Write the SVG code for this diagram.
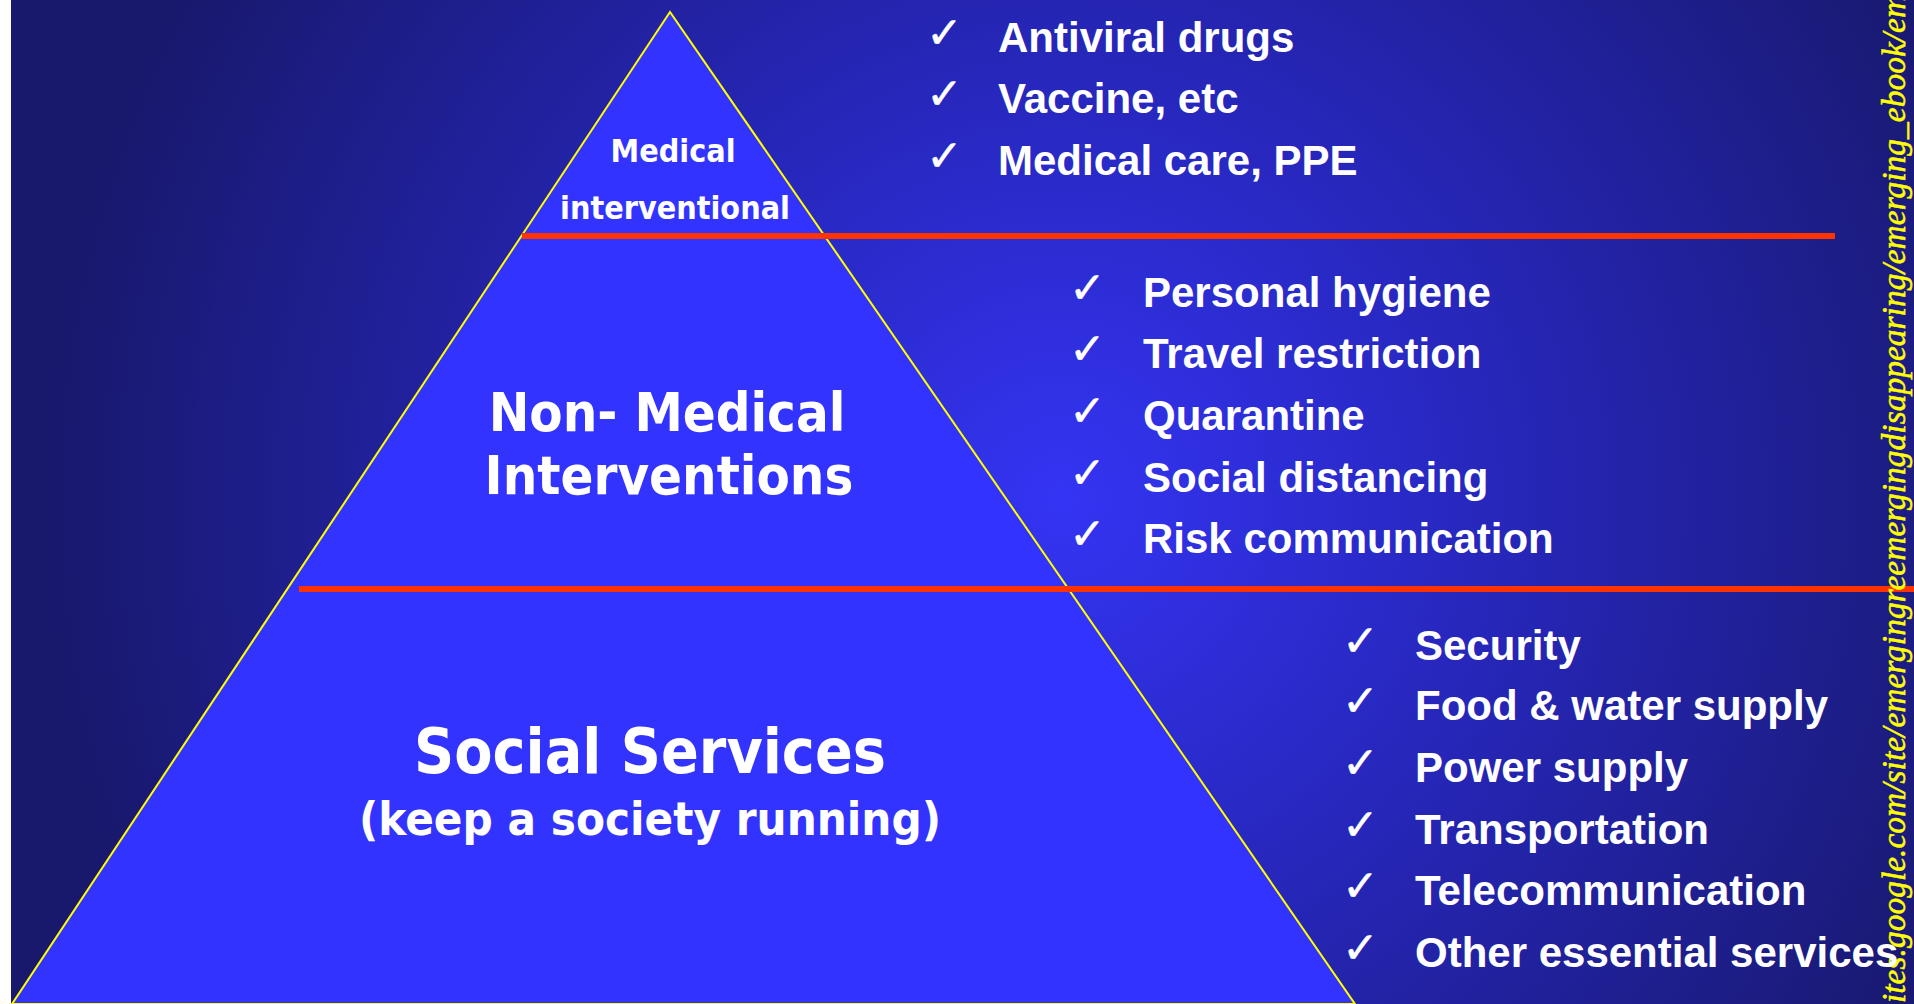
<svg xmlns="http://www.w3.org/2000/svg" width="1914" height="1004" viewBox="0 0 1914 1004">
<defs>
<radialGradient id="bg" gradientUnits="userSpaceOnUse" cx="1060" cy="500" r="1020">
<stop offset="0" stop-color="#3434f4"/>
<stop offset="0.45" stop-color="#2626b8"/>
<stop offset="1" stop-color="#18186c"/>
</radialGradient>
<style>
.tri{font-family:"DejaVu Sans Condensed","DejaVu Sans","Liberation Sans",sans-serif;font-stretch:condensed;font-weight:bold;fill:#ffffff;text-anchor:middle}
.item{font-family:"Liberation Sans",Arial,sans-serif;font-weight:bold;font-size:42px;fill:#ffffff}
.chk{font-family:"DejaVu Sans",sans-serif;font-size:44px;fill:#ffffff;stroke:#ffffff;stroke-width:0.4}
.red{stroke:#ff3300;stroke-width:6}
.url{font-family:"Liberation Serif","Times New Roman",serif;font-style:italic;font-size:33.5px;fill:#ffff00;stroke:#ffff00;stroke-width:0.5}
</style>
</defs>
<rect x="0" y="0" width="1914" height="1004" fill="#ffffff"/>
<rect x="11" y="0" width="1903" height="1004" fill="url(#bg)"/>
<g id="pyramid">
<polygon points="670,12 12,1004 1355,1004" fill="#3333ff" stroke="#ffff00" stroke-width="2"/>
</g>
<g id="connectors">
<line class="red" x1="522" y1="236" x2="1835" y2="236"/>
<line class="red" x1="299" y1="589" x2="1914" y2="589"/>
</g>
<g id="url">
<text class="url" transform="translate(1905,1003) rotate(-90)" x="0" y="0">ites.google.com/site/emergingreemergingdisappearing/emerging_ebook/em</text>
</g>
<g id="node-medical">
<text class="tri" x="673" y="162" font-size="32">Medical</text>
<text class="tri" x="675" y="219" font-size="32">interventional</text>
</g>
<g id="node-nonmedical">
<text class="tri" x="667" y="431" font-size="54">Non- Medical</text>
<text class="tri" x="669" y="494" font-size="54">Interventions</text>
</g>
<g id="node-social">
<text class="tri" x="650" y="773" font-size="62">Social Services</text>
<text class="tri" x="650" y="835" font-size="47">(keep a society running)</text>
</g>
<g id="list-medical">
<text class="chk" x="926" y="48">✓</text>
<text class="item" x="998" y="52">Antiviral drugs</text>
<text class="chk" x="926" y="109">✓</text>
<text class="item" x="998" y="113">Vaccine, etc</text>
<text class="chk" x="926" y="171">✓</text>
<text class="item" x="998" y="175">Medical care, PPE</text>
</g>
<g id="list-nonmedical">
<text class="chk" x="1069" y="303">✓</text>
<text class="item" x="1143" y="307">Personal hygiene</text>
<text class="chk" x="1069" y="364">✓</text>
<text class="item" x="1143" y="368">Travel restriction</text>
<text class="chk" x="1069" y="426">✓</text>
<text class="item" x="1143" y="430">Quarantine</text>
<text class="chk" x="1069" y="488">✓</text>
<text class="item" x="1143" y="492">Social distancing</text>
<text class="chk" x="1069" y="549">✓</text>
<text class="item" x="1143" y="553">Risk communication</text>
</g>
<g id="list-social">
<text class="chk" x="1342" y="656">✓</text>
<text class="item" x="1415" y="660">Security</text>
<text class="chk" x="1342" y="716">✓</text>
<text class="item" x="1415" y="720">Food &amp; water supply</text>
<text class="chk" x="1342" y="778">✓</text>
<text class="item" x="1415" y="782">Power supply</text>
<text class="chk" x="1342" y="840">✓</text>
<text class="item" x="1415" y="844">Transportation</text>
<text class="chk" x="1342" y="901">✓</text>
<text class="item" x="1415" y="905">Telecommunication</text>
<text class="chk" x="1342" y="963">✓</text>
<text class="item" x="1415" y="967">Other essential services</text>
</g>
</svg>
